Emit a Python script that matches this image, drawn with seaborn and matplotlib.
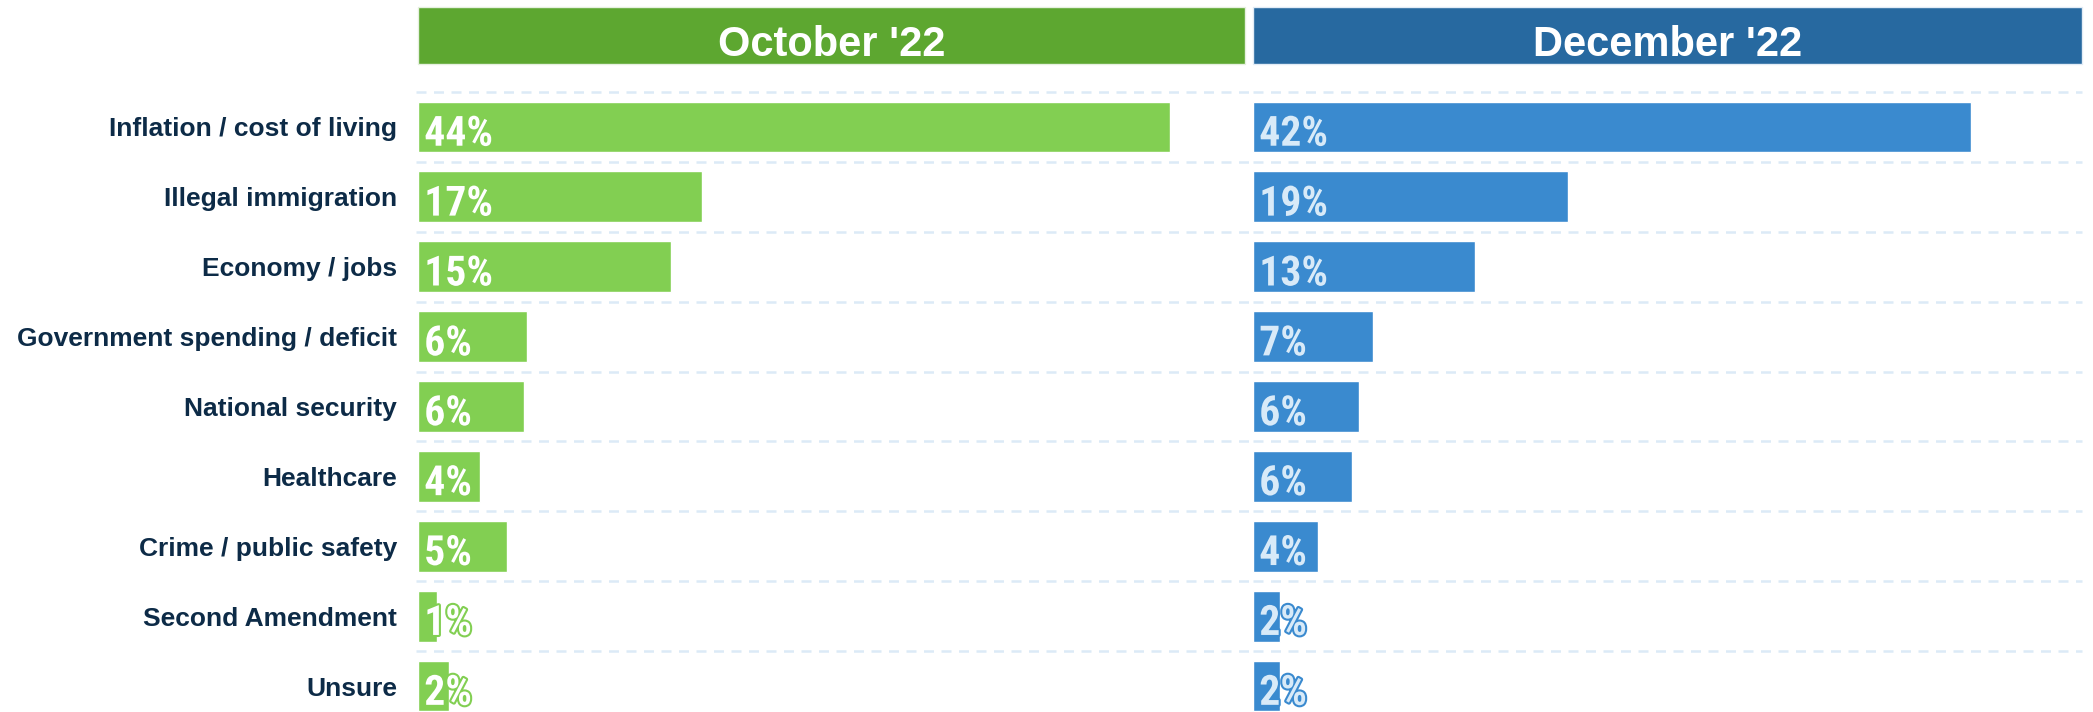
import matplotlib
matplotlib.use("Agg")
import matplotlib.pyplot as plt
import seaborn as sns
import pandas as pd
from matplotlib import font_manager
from matplotlib.patches import Rectangle
import matplotlib.patheffects as pe

categories = ["Inflation / cost of living", "Illegal immigration", "Economy / jobs",
              "Government spending / deficit", "National security", "Healthcare",
              "Crime / public safety", "Second Amendment", "Unsure"]
oct_values = [44.0, 16.6, 14.8, 6.4, 6.2, 3.6, 5.2, 1.1, 1.8]
dec_values = [42.0, 18.4, 13.0, 7.0, 6.2, 5.8, 3.8, 1.6, 1.6]
oct_labels = ["44%", "17%", "15%", "6%", "6%", "4%", "5%", "1%", "2%"]
dec_labels = ["42%", "19%", "13%", "7%", "6%", "6%", "4%", "2%", "2%"]
headers = ["October '22", "December '22"]

# pick a narrow bold font if one is installed
fl = font_manager.fontManager.ttflist
names = {f.name for f in fl}
narrow_kw = None
for nm in ["Liberation Sans Narrow", "Arial Narrow", "Roboto Condensed", "Open Sans Condensed"]:
    if nm in names:
        narrow_kw = dict(family=[nm, "DejaVu Sans"], fontsize=30)
        break
if narrow_kw is None:
    narrow_kw = dict(family=["Roboto", "DejaVu Sans"], fontsize=27)

sns.set_theme(style="white")
plt.rcParams['font.family'] = ['Liberation Sans', 'DejaVu Sans']

W, H = 2093, 712
fig = plt.figure(figsize=(W / 100, H / 100), dpi=100)

def fx(px):
    return px / W

def fy(py):
    return 1 - py / H

ax_top = 92
ax_bot = 721
axes_specs = [
    (418, 1248, oct_values, oct_labels, "#82CF52", "#5DA730", "white", headers[0], 418, 1245),
    (1253, 2082, dec_values, dec_labels, "#3A8ACF", "#2769A0", "#D8EAF8", headers[1], 1253, 2082),
]

px_per_pct = 17.1
for i, (x0, x1, vals, labs, bar_c, head_c, txt_c, head, h0, h1) in enumerate(axes_specs):
    ax = fig.add_axes([fx(x0), fy(ax_bot), fx(x1 - x0), (ax_bot - ax_top) / H])
    df = pd.DataFrame({"category": categories, "value": vals})
    sns.barplot(data=df, x="value", y="category", ax=ax, color=bar_c,
                saturation=1, width=0.725, orient="h")
    ax.set_xlim(0, (x1 - x0) / px_per_pct)
    ax.set_ylim(8.5, -0.5)
    ax.set_xlabel("")
    ax.set_ylabel("")
    ax.set_xticks([])
    for s in ax.spines.values():
        s.set_visible(False)
    for b in [k - 0.5 for k in range(0, 9)]:
        ax.axhline(b, xmin=-0.003 if i == 0 else 0, xmax=1.01 if i == 0 else 1,
                   color="#DCEAF7", lw=1.8, ls=(0, (4, 3)), zorder=0, clip_on=False)
    if i == 0:
        ax.tick_params(axis="y", length=0, pad=15)
        for t in ax.get_yticklabels():
            t.set_fontsize(19)
            t.set_fontweight("bold")
            t.set_color("#0D2B47")
    else:
        ax.set_yticks([])
    for j, (v, lab) in enumerate(zip(vals, labs)):
        ax.annotate(lab, xy=(0, j), xytext=(4.5, -2), textcoords="offset points",
                    ha="left", va="center_baseline", fontweight="bold",
                    color=txt_c, **narrow_kw,
                    path_effects=[pe.withStroke(linewidth=3, foreground=bar_c)])
    # header
    fig.patches.append(Rectangle((fx(h0), fy(64)), fx(h1 - h0), (64 - 7) / H,
                                 transform=fig.transFigure, facecolor=head_c,
                                 edgecolor="#E6F0E0" if i == 0 else "#E2ECF6", lw=1))
    fig.text(fx((h0 + h1) / 2), fy(40), head, ha="center", va="center_baseline",
             fontsize=30, fontweight="bold", color="white")

fig.savefig("out.png", dpi=100)
